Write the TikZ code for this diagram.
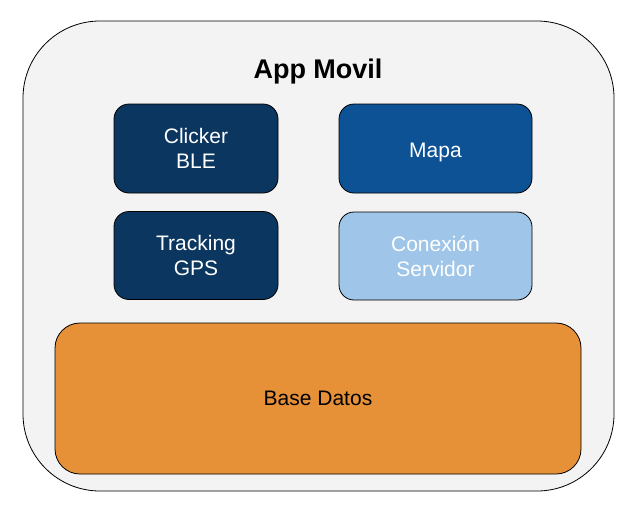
\documentclass[tikz,border=0pt]{standalone}
\usepackage{fontspec}
\setmainfont{Liberation Sans}
\usepackage{xcolor}
\definecolor{fondo}{HTML}{F3F3F3}
\definecolor{azulosc}{HTML}{0B365F}
\definecolor{azulmed}{HTML}{0D5294}
\definecolor{azulcla}{HTML}{9FC5E8}
\definecolor{naranja}{HTML}{E69138}
\tikzset{
  modulo/.style={draw=black,line width=0.8pt,rounded corners=15pt,inner sep=0pt,
    align=center,font=\fontsize{21}{25}\selectfont,text=white},
}

\begin{document}
\begin{tikzpicture}[x=1pt,y=-1pt]
\useasboundingbox (0,0) rectangle (636,514);
\filldraw[draw=black,line width=0.8pt,fill=fondo,rounded corners=77pt] (23,21) rectangle (614,491);
%\node at (318,40){titulo};
\node[font=\fontsize{27}{30}\selectfont\bfseries] (titulo) at (318,72){App Movil};
\node[modulo,fill=azulosc,minimum width=164pt,minimum height=89pt] (clicker) at (196,148.5){Clicker\\BLE};
\node[modulo,fill=azulosc,minimum width=164pt,minimum height=88pt] (tracking) at (196,255.5){Tracking\\GPS};
\node[modulo,fill=azulmed,text height=18pt,text depth=0pt,minimum width=193pt,minimum height=89pt] (mapa) at (435.5,148.5){Mapa};
\node[modulo,fill=azulcla,minimum width=193pt,minimum height=88pt] (conexion) at (435.5,256){Conexión\\Servidor};
\node[modulo,fill=naranja,text=black,rounded corners=25pt,minimum width=526pt,minimum height=151pt] (base) at (318,398.5){Base Datos};
\end{tikzpicture}
\end{document}
